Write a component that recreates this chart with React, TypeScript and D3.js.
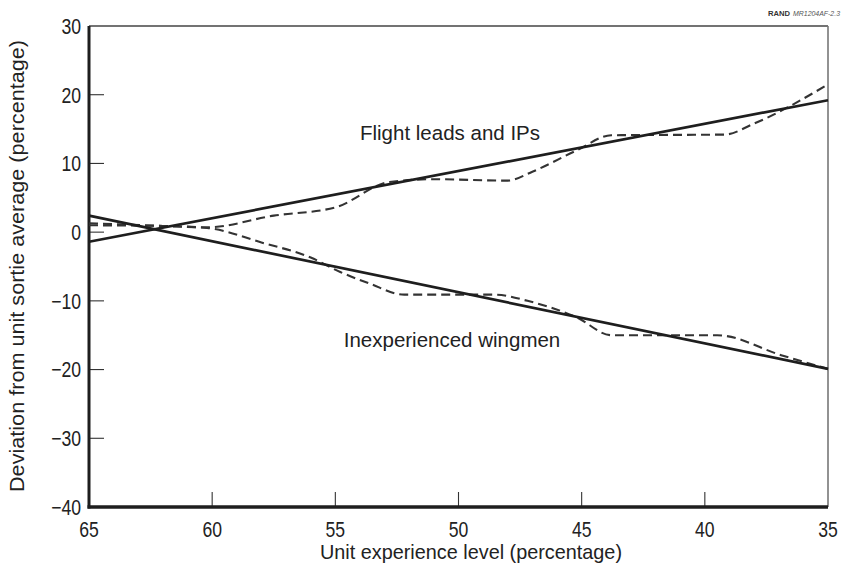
import React from "react";
import * as d3 from "d3";

const xTicks = [65, 60, 55, 50, 45, 40, 35];
const yTicks = [30, 20, 10, 0, -10, -20, -30, -40];

// Fitted (solid) lines: [experience %, deviation %]
const leadsFit: [number, number][] = [[65, -1.4], [35, 19.2]];
const wingFit: [number, number][] = [[65, 2.4], [35, -19.9]];

// Observed (dashed) curves
const leadsObs: [number, number][] = [
  [65, 1.3], [62, 0.9], [60.2, 0.7], [57.5, 2.4], [55, 3.6], [52.8, 7.3],
  [51, 7.7], [48, 7.5], [47, 8.8], [45.2, 11.9], [43.8, 14.1], [39.2, 14.2],
  [38, 15.8], [35, 21.5],
];
const wingObs: [number, number][] = [
  [65, 1.0], [62, 0.9], [60.2, 0.6], [58, -1.5], [56, -3.7], [54.8, -5.8],
  [53.6, -7.5], [52.2, -9.1], [48.5, -9.1], [47.2, -10], [45.2, -12.4],
  [43.8, -15.0], [39.5, -15.0], [36.9, -17.9], [35, -19.9],
];

const seriesLabels = ["Flight leads and IPs", "Inexperienced wingmen"];
const xTitle = "Unit experience level (percentage)";
const yTitle = "Deviation from unit sortie average (percentage)";
const figOrg = "RAND";
const figId = "MR1204AF-2.3";

export default function App() {
  const W = 846, H = 574;
  const x = d3.scaleLinear().domain([65, 35]).range([89, 828]);
  const y = d3.scaleLinear().domain([-40, 30]).range([507, 26]);
  const line = d3.line<[number, number]>().x(d => x(d[0])).y(d => y(d[1]));
  const curve = d3.line<[number, number]>().x(d => x(d[0])).y(d => y(d[1])).curve(d3.curveMonotoneX);
  const font = "'Liberation Sans', Arial, Helvetica, sans-serif";
  const ink = "#1e1e1e";

  return (
    <svg width={W} height={H} style={{ position: "absolute", left: 0, top: 0, background: "#fff" }} fontFamily={font}>
      <rect x={0} y={0} width={W} height={H} fill="#fff" />
      {/* frame */}
      <line x1={x(65)} x2={x(35)} y1={y(30)} y2={y(30)} stroke="#444" strokeWidth={1.3} />
      <line x1={x(35)} x2={x(35)} y1={y(30)} y2={y(-40)} stroke="#777" strokeWidth={1.6} />
      {/* y ticks */}
      {yTicks.filter(t => t > -40 && t < 30).map(t => (
        <line key={"yt" + t} x1={x(65)} x2={x(65) + 15} y1={y(t)} y2={y(t)} stroke="#333" strokeWidth={1.1} />
      ))}
      {/* x ticks */}
      {xTicks.filter(t => t < 65 && t > 35).map(t => (
        <line key={"xt" + t} x1={x(t)} x2={x(t)} y1={y(-40)} y2={y(-40) - 15} stroke="#333" strokeWidth={1.1} />
      ))}
      {/* axes */}
      <line x1={x(65)} x2={x(65)} y1={y(30)} y2={y(-40) + 1.5} stroke={ink} strokeWidth={3} />
      <line x1={x(65) - 1.5} x2={x(35)} y1={y(-40)} y2={y(-40)} stroke={ink} strokeWidth={3.5} />
      {/* data */}
      <path d={curve(leadsObs) || ""} fill="none" stroke="#333" strokeWidth={2.1} strokeDasharray="9,5" />
      <path d={curve(wingObs) || ""} fill="none" stroke="#333" strokeWidth={2.1} strokeDasharray="9,5" />
      <path d={line(leadsFit) || ""} fill="none" stroke={ink} strokeWidth={2.7} />
      <path d={line(wingFit) || ""} fill="none" stroke={ink} strokeWidth={2.7} />
      {/* y tick labels */}
      {yTicks.map(t => (
        <g key={"yl" + t} transform={`translate(81,${y(t)}) scale(0.8,1)`}>
          <text x={0} y={0} dy="0.36em" textAnchor="end" fontSize={22} fill="#222">
            {t < 0 ? "\u2212" + Math.abs(t) : String(t)}
          </text>
        </g>
      ))}
      {/* x tick labels */}
      {xTicks.map(t => (
        <g key={"xl" + t} transform={`translate(${x(t)},537) scale(0.8,1)`}>
          <text x={0} y={0} textAnchor="middle" fontSize={22} fill="#222">{t}</text>
        </g>
      ))}
      {/* axis titles */}
      <text x={471} y={559} textAnchor="middle" fontSize={21} fill="#222" textLength={302} lengthAdjust="spacingAndGlyphs">{xTitle}</text>
      <text transform={`translate(24,266) rotate(-90)`} textAnchor="middle" fontSize={21} fill="#222" textLength={452} lengthAdjust="spacingAndGlyphs">{yTitle}</text>
      {/* series labels */}
      <text x={450} y={140} textAnchor="middle" fontSize={20.5} fill="#222">{seriesLabels[0]}</text>
      <text x={452} y={347} textAnchor="middle" fontSize={20.5} fill="#222">{seriesLabels[1]}</text>
      {/* figure id */}
      <text x={768} y={16} fontSize={8} fontWeight="bold" fill="#333" textLength={22} lengthAdjust="spacingAndGlyphs">{figOrg}</text>
      <text x={793} y={16} fontSize={8} fontStyle="italic" fill="#555" textLength={47} lengthAdjust="spacingAndGlyphs">{figId}</text>
    </svg>
  );
}
